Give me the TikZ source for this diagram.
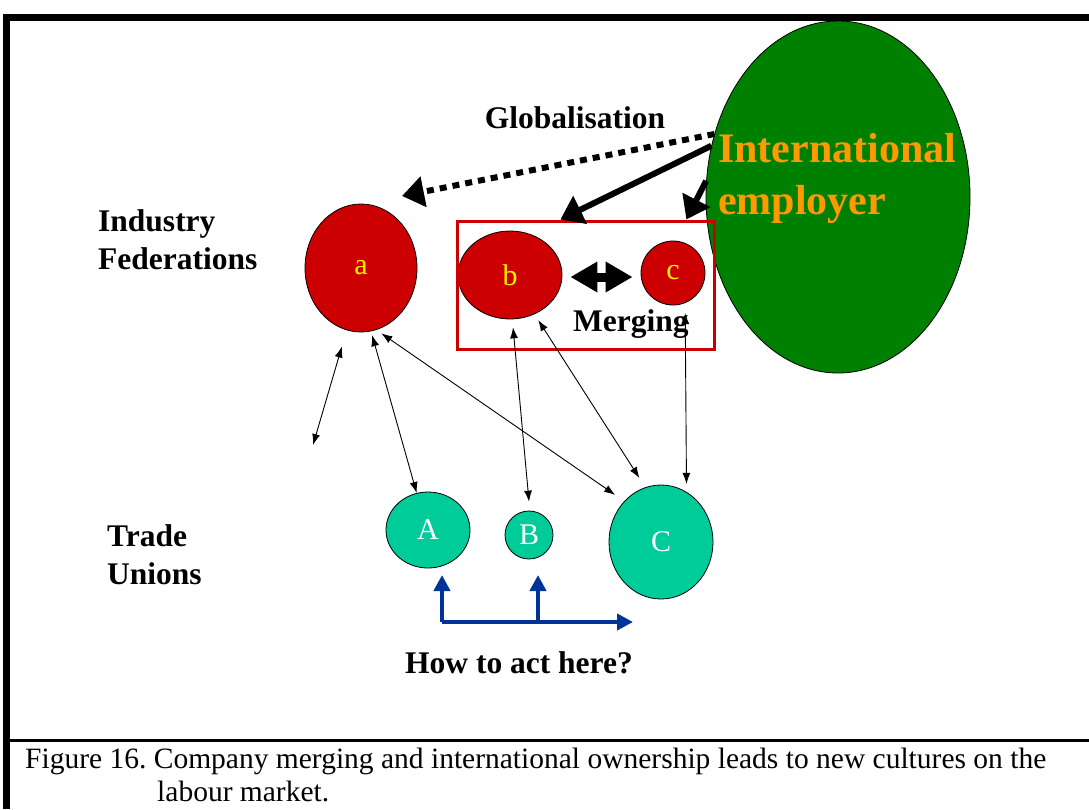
\documentclass[tikz,border=0pt]{standalone}
\usepackage{fontspec}
\setmainfont{Liberation Serif}
\usetikzlibrary{arrows.meta,shapes.geometric}
\frenchspacing

\definecolor{fedred}{RGB}{204,0,0}
\definecolor{emplgreen}{RGB}{0,128,0}
\definecolor{unionteal}{RGB}{0,204,153}
\definecolor{emplorange}{RGB}{255,153,0}
\definecolor{actblue}{RGB}{0,51,153}

\tikzset{
  fed/.style={ellipse, draw=black, line width=0.8pt, fill=fedred, text=yellow,
              inner sep=0pt, font=\fontsize{30}{34}\selectfont},
  union/.style={ellipse, draw=black, line width=0.8pt, fill=unionteal, text=white,
              inner sep=0pt, font=\fontsize{30}{34}\selectfont},
  lbl/.style={font=\fontsize{31.5}{38}\selectfont\bfseries, align=left, inner sep=0pt},
  thin/.style={line width=0.9pt, {Latex[length=11pt,width=8pt]}-{Latex[length=11pt,width=8pt]}},
  heavy/.style={line width=6pt, -{Triangle[length=22pt,width=30pt]}},
  heavydot/.style={line width=6pt, dash pattern=on 7pt off 6pt, -{Triangle[length=22pt,width=30pt]}},
  mergearr/.style={line width=9pt, {Triangle[length=27pt,width=29pt]}-{Triangle[length=27pt,width=29pt]}},
  bluearr/.style={line width=4pt, draw=actblue, -{Triangle[length=16pt,width=16pt]}, color=actblue},
  captxt/.style={font=\fontsize{29.5}{33}\selectfont, anchor=base west, inner sep=0pt},
}

\begin{document}
\begin{tikzpicture}[x=1pt,y=-1pt]
\useasboundingbox (0,0) rectangle (1089,809);

% frame
\draw[line width=7pt] (6,809) -- (6,17) -- (1089,17);
\draw[line width=3pt] (6,740) -- (1089,740);

% international employer
\node[ellipse, draw=black, line width=0.8pt, fill=emplgreen, minimum width=264pt, minimum height=352pt, inner sep=0pt] (G) at (838,197) {};
\node[font=\fontsize{42}{52}\selectfont\bfseries, text=emplorange, align=left, anchor=west, inner sep=0pt] (emp) at (718,178) {International\\employer};

% federations
\node[fed, minimum width=112pt, minimum height=128pt] (a) at (361,268) {a};
\node[fed, minimum width=104pt, minimum height=88pt] (b) at (510,275) {b};
\node[fed, minimum width=64pt, minimum height=64pt] (c) at (673,273) {c};

% merged box
\node[draw=fedred, line width=3pt, minimum width=257pt, minimum height=128pt, inner sep=0pt] (merge) at (585.5,285) {};
\node[lbl, anchor=base west] (mrg) at (573,331) {Merging};

% unions
\node[union, minimum width=84pt, minimum height=76pt] (A) at (428,530) {A};
\node[union, minimum width=48pt, minimum height=48pt] (B) at (529,535) {B};
\node[union, minimum width=104pt, minimum height=114pt] (C) at (661,542) {C};

% labels
\node[lbl, anchor=base] (glob) at (575,128) {Globalisation};
\node[lbl, anchor=north west] (ind) at (98,209) {Industry\\Federations};
\node[lbl, anchor=north west] (tu) at (107,524) {Trade\\Unions};
\node[lbl, anchor=base] (how) at (519,673) {How to act here?};

% influence of the employer
\coordinate (globtip) at (402,196);
\draw[heavydot] (G.153) -- (globtip);
\draw[heavy] (G.158) -- (merge.111);
\draw[heavy] (G.173) -- (merge.33.6);
\draw[mergearr, shorten <=8pt, shorten >=8pt] (b.east |- 0,277) -- (c.west |- 0,277);

% federation - union relations
\coordinate (free) at (313,445);
\draw[thin, shorten <=17pt] (a.-103) -- (free);
\draw[thin, shorten <=4pt] (a.-81) -- (A.107);
\draw[thin, shorten <=6pt, shorten >=11pt] (a.-76) -- (C.132);
\draw[thin, shorten <=8pt, shorten >=9pt] (b.-87) -- (B.88);
\draw[thin, shorten <=7pt, shorten >=11pt] (b.-58) -- (C.106);
\draw[thin, shorten <=10pt, shorten >=8pt] (c.-68) -- (C.63);

% how to act
\coordinate (hl) at (442,622);
\coordinate (hm) at (538,622);
\coordinate (hr) at (633,622);
\coordinate (ta) at (442,575);
\coordinate (tb) at (538,575);
\draw[bluearr] (hl) -- (ta);
\draw[bluearr] (hm) -- (tb);
\draw[bluearr] (hl) -- (hr);

% caption
\node[captxt] (cap1) at (25,768) {Figure 16. Company merging and international ownership leads to new cultures on the};
\node[captxt] (cap2) at (157,801) {labour market.};
\end{tikzpicture}
\end{document}
